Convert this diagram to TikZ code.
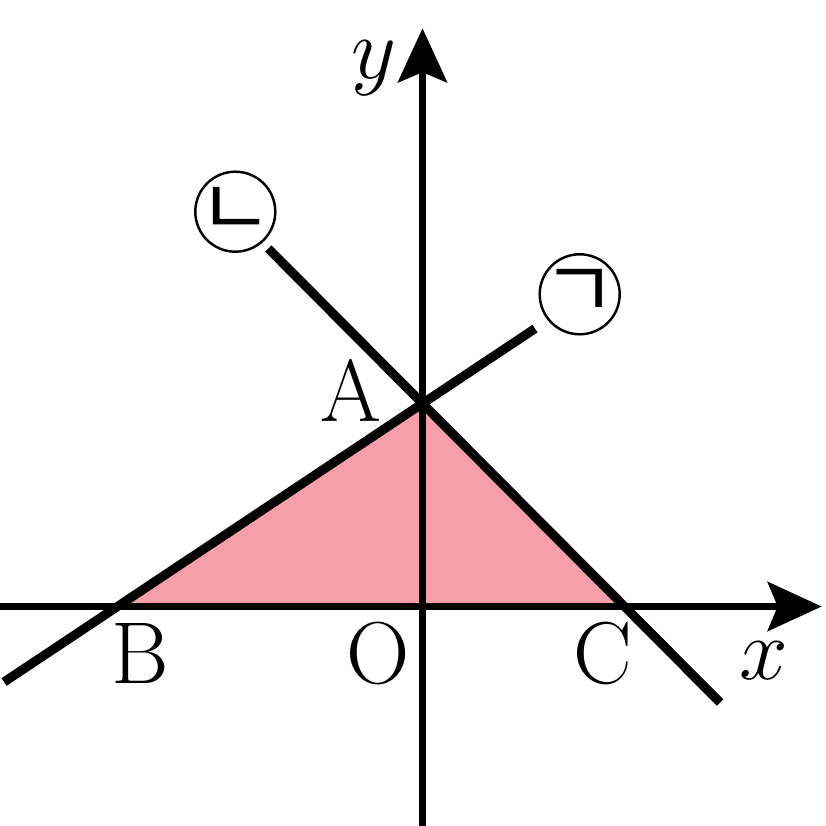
\documentclass[tikz,border=0pt]{standalone}
\usepackage{fontspec}
\newfontfamily\krfont{Noto Sans CJK KR}
\usetikzlibrary{arrows.meta, calc}

\definecolor{areapink}{RGB}{246,158,169}

\begin{document}
\begin{tikzpicture}
    [
        axis/.style = {line width=2pt, -{Stealth[length=0.54cm, width=0.49cm, inset=0.1cm]}},
        graph/.style = {line width=2.6pt},
        letter/.style = {inner sep=0pt, anchor=base, font=\fontsize{25}{30}\selectfont},
        tag/.style = {draw, shape=circle, minimum size=0.8cm, inner sep=0pt, line width=0.7pt,
                      label={[inner sep=0pt, font=\krfont\fontsize{23}{26}\selectfont]center:#1}},
    ]
    \useasboundingbox (-4.225,-2.195) rectangle (4.025,6.065);

    \coordinate (O) at (0,0);
    \coordinate (A) at (0,2.03);
    \coordinate (B) at (-3.05,0);
    \coordinate (C) at (2.02,0);

    \coordinate (xs) at (-4.225,0);
    \coordinate (xe) at (3.992,0);
    \coordinate (ys) at (0,-2.195);
    \coordinate (ye) at (0,5.782);

    \fill[areapink] (A) -- (B) -- (C) -- cycle;

    \draw[axis] (xs) -- (xe);
    \draw[axis] (ys) -- (ye);

    \draw[graph] ($(B)!-0.372!(A)$) -- ($(B)!1.369!(A)$);
    \draw[graph] ($(A)!-0.763!(C)$) -- ($(A)!1.473!(C)$);

    \node[letter] (lA) at (-0.72,1.848)  {A};
    \node[letter] (lB) at (-2.822,-0.768) {B};
    \node[letter] (lO) at (-0.44,-0.768) {O};
    \node[letter] (lC) at (1.80,-0.768)  {C};
    \node[letter] (lx) at (3.415,-0.735) {$x$};
    \node[letter] (ly) at (-0.485,5.275) {$y$};

    \node[tag=ㄱ] (t1) at (1.572,3.122)  {};
    \node[tag=ㄴ] (t2) at (-1.872,3.948) {};
\end{tikzpicture}
\end{document}
